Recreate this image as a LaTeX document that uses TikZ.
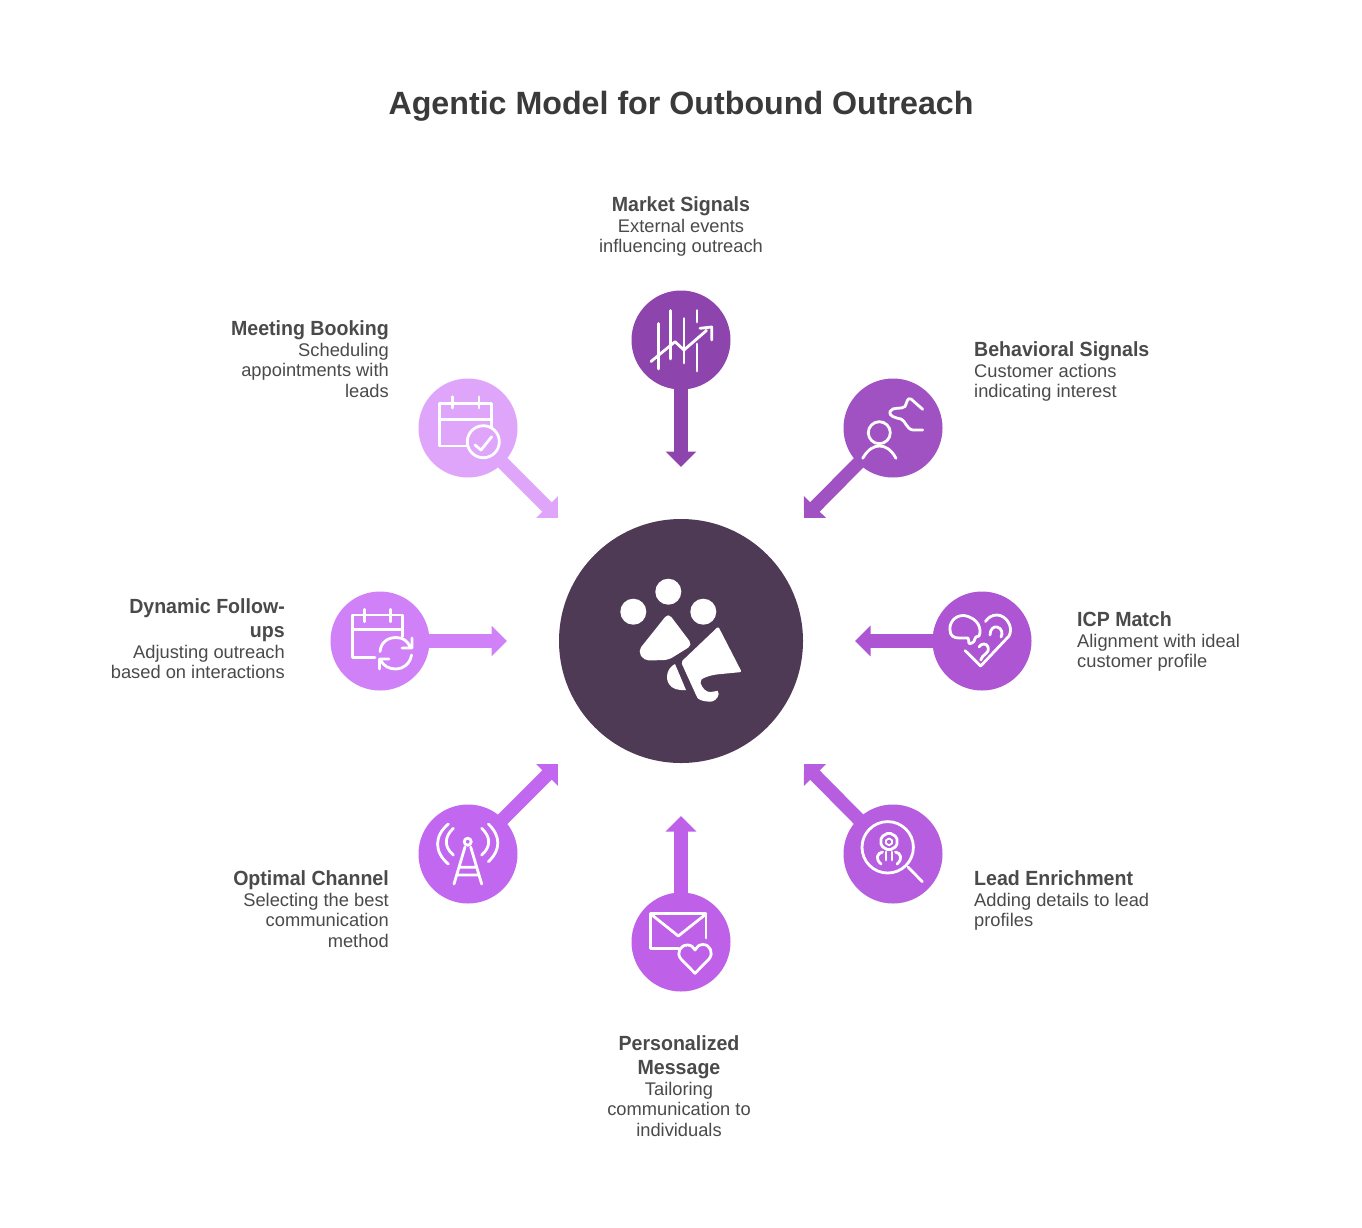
\documentclass[tikz,border=0pt]{standalone}
\usepackage{fontspec}
\setmainfont{Liberation Sans}
\newfontfamily\nmfam[FakeStretch=0.955]{Liberation Sans}
\usetikzlibrary{arrows.meta}
\definecolor{cMarket}{HTML}{8E44AD}
\definecolor{cBehav}{HTML}{A052C2}
\definecolor{cIcp}{HTML}{AE55D3}
\definecolor{cLead}{HTML}{B65DE0}
\definecolor{cPers}{HTML}{BE60E8}
\definecolor{cOpt}{HTML}{C268F0}
\definecolor{cDyn}{HTML}{D181F7}
\definecolor{cMeet}{HTML}{DFA5FB}
\definecolor{cCore}{HTML}{4F3A55}
\definecolor{cHead}{HTML}{3A3A3A}
\definecolor{cText}{HTML}{4A4A4A}
\newcommand{\nm}[1]{{\nmfam\fontsize{20.5}{20.6}\selectfont\bfseries #1}}
\tikzset{
  x=1pt,y=-1pt,
  disc/.style={circle,minimum size=99pt,inner sep=0pt,fill=#1},
  link/.style={draw=#1,line width=13.3pt,-{Triangle[length=15.5pt,width=30pt]}},
  ico/.style={draw=white,line width=2.8pt,line cap=round,line join=round},
  lab/.style={inner sep=0pt,text=cText,font=\fontsize{18.3}{20.6}\selectfont},
  labr/.style={lab,align=right,anchor=north east},
  labl/.style={lab,align=left,anchor=north west},
  labc/.style={lab,align=center,anchor=north},
}
\begin{document}
\begin{tikzpicture}
\useasboundingbox[fill=white] (0,0) rectangle (1362,1227);
\node[inner sep=0pt,text=cHead,font=\fontsize{32.2}{36}\selectfont\bfseries] (title) at (681,106) {Agentic Model for Outbound Outreach};

% hub
\node[circle,minimum size=244pt,inner sep=0pt,fill=cCore] (core) at (681,641) {};

% discs
\node[disc=cMarket] (market) at (681,340) {};
\node[disc=cBehav] (behav) at (893,428) {};
\node[disc=cIcp] (icp) at (982,641) {};
\node[disc=cLead] (lead) at (893,854) {};
\node[disc=cPers] (pers) at (681,942) {};
\node[disc=cOpt] (opt) at (468,854) {};
\node[disc=cDyn] (dyn) at (380,641) {};
\node[disc=cMeet] (meet) at (468,428) {};

% arrow ends
\coordinate (tMarket) at (681,467);
\coordinate (tBehav) at (804,518);
\coordinate (tIcp) at (855,641);
\coordinate (tLead) at (804,764);
\coordinate (tPers) at (681,816);
\coordinate (tOpt) at (558,764);
\coordinate (tDyn) at (507,641);
\coordinate (tMeet) at (558,518);

\draw[link=cMarket] (market.center) -- (tMarket);
\draw[link=cBehav] (behav.center) -- (tBehav);
\draw[link=cIcp] (icp.center) -- (tIcp);
\draw[link=cLead] (lead.center) -- (tLead);
\draw[link=cPers] (pers.center) -- (tPers);
\draw[link=cOpt] (opt.center) -- (tOpt);
\draw[link=cDyn] (dyn.center) -- (tDyn);
\draw[link=cMeet] (meet.center) -- (tMeet);

% hub icon
\fill[white] (668.3,591.7) circle (13) (633.3,611.7) circle (13) (703.3,611.7) circle (13);
\fill[white,rounded corners=5pt] (668.3,613) -- (638,651) -- (644,660.5) -- (668.3,660) -- (692.5,645) -- cycle;
\fill[white,rounded corners=2pt] (718.3,626.5) -- (741.7,672) -- (716,674.5) .. controls (708,676) and (703,678) .. (700,681) .. controls (702,688) and (706,692) .. (712,692) .. controls (716,691) and (718,691) .. (719,692) .. controls (718,699) and (713,702) .. (708,701.5) .. controls (702,701) and (698,699) .. (696.5,696) -- (681,662) -- cycle;
\fill[white] (675,664) .. controls (667,668) and (665,678) .. (669,684) .. controls (672,689) and (678,690.5) .. (686,690) -- cycle;

% market icon
\draw[ico] (658.3,323.5) -- (658.3,369) (670.3,310.5) -- (670.3,359) (684,318.5) -- (684,363) (697,310.5) -- (697,322) (697,344) -- (697,371);
\draw[ico] (651,361.5) -- (675,341.7) -- (684,350) -- (706.5,330.5) (700,328.3) -- (711.7,327) -- (711.7,340);

% behavioral icon
\draw[ico] (879.3,432.7) circle (11);
\draw[ico] (862.7,458.3) .. controls (868,449) and (874,446) .. (879.3,446) .. controls (885,446) and (891,449) .. (896,458.3);
\draw[ico] (922.7,430) -- (913,430) .. controls (906,429) and (906,421) .. (901,419) .. controls (896,418) and (888,416) .. (890,411.5) .. controls (893,406) and (901,410) .. (905,406.5) .. controls (907,403) and (907,397) .. (911,399) -- (922.7,409.3);

% icp icon
\draw[ico] (980.7,666) -- (965,650.5) (980.7,666) -- (1009,636) .. controls (1014,627) and (1006,615) .. (997,615) .. controls (992,615) and (988,617.5) .. (985.5,621.5);
\draw[ico] (968,638) .. controls (970,642) and (967,645) .. (972,643) .. controls (976,642) and (973,636) .. (979,636) .. controls (982,630) and (979,618) .. (964,615.5) .. controls (954,615) and (949,624) .. (950,630) .. controls (950,636) and (954,638) .. (959,638) -- cycle;
\draw[ico] (990,635) .. controls (990,629) and (994,626) .. (997,627) .. controls (1002,628) and (1003,634) .. (1001,637);
\draw[ico] (980.7,660) .. controls (982,654) and (990,654) .. (988,647) .. controls (987,643) and (981,643) .. (979,647);

% lead icon
\draw[ico] (887.7,847.3) circle (25.7);
\draw[ico] (908,867) -- (922.3,881.7);
\draw[ico,rounded corners=2pt] (889,832.5) -- (897,837) -- (897,846) -- (889,850.5) -- (881,846) -- (881,837) -- cycle;
\draw[ico,line width=1.8pt] (889,838.5) -- (892,840.2) -- (892,843.5) -- (889,845.2) -- (886,843.5) -- (886,840.2) -- cycle;
\draw[ico] (882.5,852) .. controls (877,853) and (875,859) .. (881,864);
\draw[ico] (895.5,852) .. controls (901,853) and (903,859) .. (897,864);
\draw[ico] (886,852) -- (886,860) (892,852) -- (892,860);

% personalized icon
\draw[ico] (679,948.3) -- (650.7,948.3) -- (650.7,913.3) -- (706,913.3) -- (706,938);
\draw[ico] (650.7,914) -- (678.3,936) -- (706,914);
\draw[ico] (695,973.3) -- (681,959) .. controls (676,953) and (680,945) .. (687.5,945) .. controls (691,945) and (693.5,947) .. (695,950) .. controls (696.5,947) and (699,944.5) .. (703,944.5) .. controls (710,944.5) and (714,953) .. (709,959) -- cycle;

% optimal icon
\draw[ico] (467.7,841.7) circle (3.5);
\draw[ico] (465,847) -- (454,884) (470.7,847) -- (481.7,884) (460,867.3) -- (476,867.3) (457.5,875) -- (478.5,875);
\draw[ico] (453.3,828.3) .. controls (444,837) and (444,847) .. (453.3,855);
\draw[ico] (448.3,824) .. controls (434,836) and (434,852) .. (448.3,864);
\draw[ico] (481.7,828.3) .. controls (491,837) and (491,847) .. (481.7,855);
\draw[ico] (488.3,824) .. controls (501,836) and (501,850) .. (488.3,861.7);

% dynamic icon
\draw[ico] (375,657.3) -- (352.3,657.3) -- (352.3,615) -- (402.3,615) -- (402.3,636.5);
\draw[ico] (352.3,629.3) -- (402.3,629.3) (364.3,609.3) -- (364.3,621.7) (390.7,609.3) -- (390.7,621.7);
\draw[ico] (380,651.5) .. controls (381,642) and (388,637.5) .. (396,637.5) .. controls (403,637.5) and (408,641) .. (410,647) (402,648) -- (412,648) -- (412,638);
\draw[ico] (411.5,655) .. controls (410,664) and (403,669) .. (396,669) .. controls (389,669) and (384,666) .. (381,661) (379.5,669) -- (379.5,659) -- (389,659);

% meeting icon
\draw[ico] (466.7,446) -- (439.3,446) -- (439.3,403.3) -- (491.7,403.3) -- (491.7,428);
\draw[ico] (439.3,419.3) -- (491.7,419.3) (452.3,396.7) -- (452.3,408) (479,396.7) -- (479,408);
\draw[ico] (483.3,441.7) circle (16);
\draw[ico] (475,445) -- (481,450) -- (491.7,436.7);

% labels
\node[labc] (lMarket) at (681,196) {\nm{Market Signals}\\[0.6pt] External events\\influencing outreach};
\node[labr] (lMeet) at (389,320) {\nm{Meeting Booking}\\[0.6pt] Scheduling\\appointments with\\leads};
\node[labl] (lBehav) at (974,341) {\nm{Behavioral Signals}\\[0.6pt] Customer actions\\indicating interest};
\node[labl] (lIcp) at (1077,611) {\nm{ICP Match}\\[0.6pt] Alignment with ideal\\customer profile};
\node[labr] (lDyn) at (285,598) {\nm{Dynamic Follow-}\\[3.4pt]\nm{ups}\\[0.6pt] Adjusting outreach\\based on interactions};
\node[labl] (lLead) at (974,870) {\nm{Lead Enrichment}\\[0.6pt] Adding details to lead\\profiles};
\node[labr] (lOpt) at (389,870) {\nm{Optimal Channel}\\[0.6pt] Selecting the best\\communication\\method};
\node[labc] (lPers) at (679,1035) {\nm{Personalized}\\[3.4pt]\nm{Message}\\[0.6pt] Tailoring\\communication to\\individuals};
\end{tikzpicture}
\end{document}
